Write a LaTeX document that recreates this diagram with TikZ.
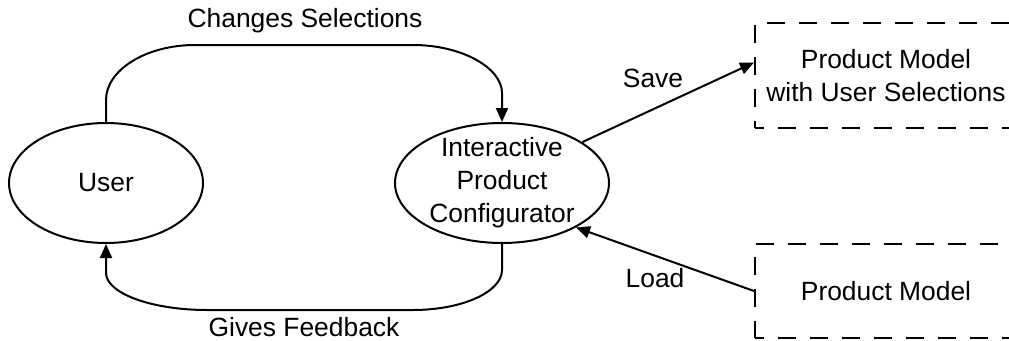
\documentclass[tikz,border=0pt]{standalone}
\usepackage{fontspec}
\setmainfont{Liberation Sans}
\usetikzlibrary{arrows.meta,shapes.geometric}
\begin{document}
\begin{tikzpicture}[x=1pt,y=-1pt,line width=2pt,
  every node/.style={font=\fontsize{26.4}{33}\selectfont},
  proc/.style={ellipse,draw,inner sep=0pt,minimum height=120pt},
  store/.style={draw,dash pattern=on 18pt off 14pt,dash phase=9pt,
    minimum width=262pt,align=center},
  flow/.style={-{Triangle[length=14pt,width=12pt]}},
  lbl/.style={inner sep=0pt}]
\useasboundingbox (0,0) rectangle (1009,340);

% processes
\node[proc,minimum width=194pt] (U) at (106,183) {User};
\node[proc,minimum width=214pt,
  label={[align=center]center:Interactive\\Product\\Configurator}] (C) at (502,183) {};

% data stores (open to the right)
\node[store,minimum height=105pt] (S) at (886,75.5) {Product Model\\with User Selections};
\node[store,minimum height=94pt] (M) at (886,291) {Product Model};

% user drives the configurator
\draw[flow] (U.north) -- (106,100)
  .. controls (106,70) and (146,45) .. (195,45) -- (413,45)
  .. controls (462,45) and (502,68) .. (502,93) -- (C.north);
\node[lbl] at (305,21) {Changes Selections};

% configurator answers the user
\draw[flow] (C.south) -- (502,270)
  .. controls (502,292) and (462,310) .. (413,310) -- (207,310)
  .. controls (151,310) and (106,293) .. (106,273) -- (U.south);
\node[lbl] at (304,327) {Gives Feedback};

% saving and loading models
\draw[flow] (C.27) -- ([yshift=13pt]S.west);
\node[lbl] at (653,78) {Save};
\draw[flow] (M.west) -- (C.-31);
\node[lbl] at (655,278) {Load};
\end{tikzpicture}
\end{document}
